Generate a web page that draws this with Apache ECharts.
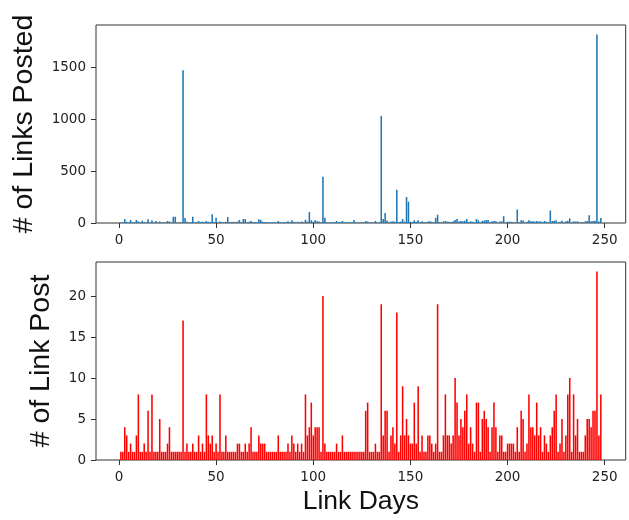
<!DOCTYPE html>
<html>
<head>
<meta charset="utf-8">
<script src="https://cdn.jsdelivr.net/npm/echarts@6/dist/echarts.min.js"></script>
<style>
  html, body { margin: 0; padding: 0; background: #fff; }
  #chart { width: 629px; height: 520px; }
</style>
</head>
<body>
<div id="chart"></div>
<script>
// links posted per day (days 1..248)
const linksPosted = [
  6, 5, 38, 12, 5, 29, 6, 8, 29, 15,
  6, 22, 10, 6, 35, 6, 26, 8, 19, 6,
  15, 6, 5, 8, 19, 14, 6, 60, 60, 6,
  5, 8, 1470, 48, 12, 6, 8, 60, 6, 8,
  19, 6, 14, 8, 20, 12, 10, 85, 8, 50,
  6, 15, 8, 6, 12, 58, 8, 10, 12, 8,
  14, 29, 8, 38, 38, 8, 12, 19, 8, 10,
  8, 35, 29, 12, 10, 8, 6, 8, 6, 8,
  6, 19, 8, 6, 8, 10, 16, 8, 26, 12,
  6, 12, 8, 14, 8, 32, 14, 105, 26, 12,
  26, 18, 14, 6, 445, 50, 8, 6, 8, 6,
  8, 19, 8, 10, 19, 8, 6, 8, 6, 8,
  29, 6, 8, 6, 8, 6, 19, 14, 6, 8,
  6, 19, 8, 6, 1030, 38, 95, 24, 8, 14,
  16, 12, 320, 8, 14, 38, 14, 250, 205, 12,
  10, 26, 12, 26, 6, 18, 6, 8, 14, 16,
  12, 8, 50, 80, 8, 6, 16, 19, 14, 12,
  10, 16, 28, 38, 14, 19, 16, 22, 38, 10,
  16, 12, 6, 38, 26, 6, 19, 24, 29, 29,
  6, 16, 19, 16, 6, 14, 16, 65, 6, 12,
  12, 12, 10, 6, 130, 8, 26, 24, 6, 12,
  26, 16, 16, 14, 19, 14, 16, 6, 19, 12,
  6, 120, 19, 22, 26, 6, 12, 22, 6, 16,
  22, 45, 6, 16, 14, 16, 6, 8, 6, 16,
  19, 75, 16, 19, 22, 1813, 14, 48
]

// number of link posts per day (days 1..248)
const linkPosts = [
  1, 1, 4, 3, 1, 2, 1, 1, 3, 8,
  1, 1, 2, 1, 6, 1, 8, 1, 1, 1,
  5, 1, 1, 1, 2, 4, 1, 1, 1, 1,
  1, 1, 17, 1, 2, 1, 1, 2, 1, 1,
  3, 1, 2, 1, 8, 3, 2, 3, 1, 2,
  1, 8, 1, 1, 3, 1, 1, 1, 1, 1,
  2, 2, 1, 1, 2, 1, 2, 4, 1, 1,
  1, 3, 2, 2, 2, 1, 1, 1, 1, 1,
  1, 3, 1, 1, 1, 1, 2, 1, 3, 2,
  1, 2, 1, 2, 1, 8, 3, 4, 7, 3,
  4, 4, 4, 1, 20, 2, 1, 1, 1, 1,
  1, 2, 1, 1, 3, 1, 1, 1, 1, 1,
  1, 1, 1, 1, 1, 1, 6, 7, 1, 1,
  1, 2, 1, 1, 19, 3, 6, 6, 1, 3,
  4, 2, 18, 1, 3, 9, 3, 5, 3, 2,
  2, 7, 2, 9, 1, 3, 1, 1, 3, 3,
  2, 1, 2, 19, 1, 1, 3, 8, 3, 3,
  2, 3, 10, 7, 3, 5, 4, 6, 8, 2,
  4, 2, 1, 7, 7, 1, 5, 6, 5, 4,
  1, 4, 7, 4, 1, 3, 3, 1, 1, 2,
  2, 2, 2, 1, 4, 1, 6, 5, 1, 2,
  8, 4, 4, 3, 7, 3, 4, 1, 3, 2,
  1, 3, 4, 6, 8, 1, 2, 5, 1, 3,
  8, 10, 1, 8, 3, 5, 1, 1, 1, 3,
  5, 5, 4, 6, 6, 23, 3, 8
]

const xTicks = [0, 50, 100, 150, 200, 250]
const topYTicks = [0, 500, 1000, 1500]
const bottomYTicks = [0, 5, 10, 15, 20]

const chart = echarts.init(document.getElementById('chart'))

const toPairs = (vals) => vals.map((v, i) => [i + 1, v])

const tickFont = {
  color: '#222',
  fontSize: 13.5,
  fontFamily: 'DejaVu Sans',
  // plain numbers, no thousands separator
  formatter: (v) => String(v)
}

const makeXAxis = (gridIndex, withName) => ({
  type: 'value',
  gridIndex: gridIndex,
  min: -11.8,
  max: 260.8,
  name: withName ? 'Link Days' : '',
  nameLocation: 'middle',
  nameGap: 28,
  nameTextStyle: { color: '#111', fontSize: 26.5, fontFamily: 'Liberation Sans', verticalAlign: 'top' },
  axisLine: { show: false, onZero: false },
  axisTick: { show: true, length: 5, lineStyle: { color: '#333' }, customValues: xTicks },
  axisLabel: Object.assign({ margin: 10, customValues: xTicks }, tickFont),
  splitLine: { show: false }
})

const makeYAxis = (gridIndex, name, max, ticks, gap) => ({
  type: 'value',
  gridIndex: gridIndex,
  min: 0,
  max: max,
  name: name,
  nameLocation: 'middle',
  nameGap: gap,
  nameTextStyle: { color: '#111', fontSize: 28.5, fontFamily: 'Liberation Sans' },
  axisLine: { show: false, onZero: false },
  axisTick: { show: true, length: 5, lineStyle: { color: '#333' }, customValues: ticks },
  axisLabel: Object.assign({ margin: 10, customValues: ticks }, tickFont),
  splitLine: { show: false }
})

const option = {
  animation: false,
  backgroundColor: '#fff',
  grid: [
    { left: 96, right: 3.3, top: 25, height: 198, show: true, borderColor: '#333', borderWidth: 1, backgroundColor: 'transparent' },
    { left: 96, right: 3.3, top: 262, height: 198, show: true, borderColor: '#333', borderWidth: 1, backgroundColor: 'transparent' }
  ],
  xAxis: [makeXAxis(0, false), makeXAxis(1, true)],
  yAxis: [
    makeYAxis(0, '# of Links Posted', 1904, topYTicks, 57),
    makeYAxis(1, '# of Link Post', 24.15, bottomYTicks, 40)
  ],
  series: [
    {
      type: 'bar',
      xAxisIndex: 0,
      yAxisIndex: 0,
      barWidth: 1.55,
      itemStyle: { color: '#1f77b4' },
      data: toPairs(linksPosted)
    },
    {
      type: 'bar',
      xAxisIndex: 1,
      yAxisIndex: 1,
      barWidth: 1.55,
      itemStyle: { color: '#ff0000' },
      data: toPairs(linkPosts)
    }
  ]
}

chart.setOption(option)
</script>
</body>
</html>
